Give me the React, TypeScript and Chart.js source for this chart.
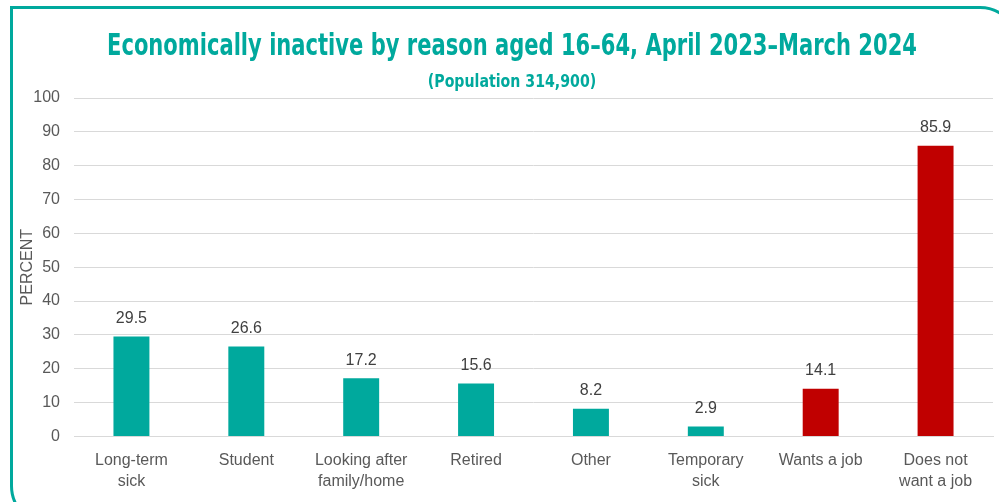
import React, { useEffect, useRef } from "react";
import { Chart, registerables } from "chart.js";

Chart.register(...registerables);

const categories: (string | string[])[] = [
  ["Long-term", "sick"],
  "Student",
  ["Looking after", "family/home"],
  "Retired",
  "Other",
  ["Temporary", "sick"],
  "Wants a job",
  ["Does not", "want a job"],
];
const values = [29.5, 26.6, 17.2, 15.6, 8.2, 2.9, 14.1, 85.9];
const barColors = ["#00a99d", "#00a99d", "#00a99d", "#00a99d", "#00a99d", "#00a99d", "#c00000", "#c00000"];
const yTicks = [0, 10, 20, 30, 40, 50, 60, 70, 80, 90, 100];
const titleText = "Economically inactive by reason aged 16–64, April 2023–March 2024";
const subtitleText = "(Population 314,900)";
const yTitle = "PERCENT";

const TEAL = "#00a99d";
const TITLE_FONT = "'DejaVu Sans Condensed', 'DejaVu Sans', sans-serif";
const BODY_FONT = "'Liberation Sans', Arial, sans-serif";

const valueLabels = {
  id: "valueLabels",
  afterDatasetsDraw(chart: any) {
    const ctx = chart.ctx;
    const meta = chart.getDatasetMeta(0);
    ctx.save();
    ctx.font = `16px ${BODY_FONT}`;
    ctx.fillStyle = "#404040";
    ctx.textAlign = "center";
    ctx.textBaseline = "bottom";
    meta.data.forEach((bar: any, i: number) => {
      ctx.fillText(values[i].toFixed(1), bar.x, bar.y - 10);
    });
    ctx.restore();
  },
};

const condensedTitles = {
  id: "condensedTitles",
  afterDraw(chart: any) {
    const ctx = chart.ctx;
    const draw = (text: string, size: number, baseline: number, sx: number, cx: number) => {
      ctx.save();
      ctx.font = `bold ${size}px ${TITLE_FONT}`;
      ctx.fillStyle = TEAL;
      ctx.textAlign = "center";
      ctx.textBaseline = "alphabetic";
      ctx.translate(cx, baseline);
      ctx.scale(sx, 1);
      ctx.fillText(text, 0, 0);
      ctx.restore();
    };
    draw(titleText, 31, 55, 0.755, 512);
    draw(subtitleText, 18.5, 87, 0.85, 512);
  },
};

export default function App() {
  const ref = useRef<HTMLCanvasElement>(null);
  useEffect(() => {
    if (!ref.current) return;
    const chart = new Chart(ref.current, {
      type: "bar",
      data: {
        labels: categories,
        datasets: [
          {
            data: values,
            backgroundColor: barColors,
            barPercentage: 0.313,
            categoryPercentage: 1,
          },
        ],
      },
      options: {
        animation: false,
        responsive: false,
        maintainAspectRatio: false,
        layout: { padding: { left: 0, right: 6, top: 98, bottom: 4 } },
        plugins: {
          legend: { display: false },
          tooltip: { enabled: false },
          title: { display: false },
        },
        scales: {
          x: {
            grid: { display: false },
            border: { display: true, color: "#d9d9d9", width: 1 },
            ticks: {
              color: "#595959",
              font: { family: BODY_FONT, size: 16, lineHeight: 1.3 },
              maxRotation: 0,
              autoSkip: false,
              padding: 6,
            },
          },
          y: {
            min: 0,
            max: 100,
            afterBuildTicks: (s: any) => {
              s.ticks = yTicks.map((v) => ({ value: v }));
            },
            afterFit: (s: any) => {
              s.width = 74;
            },
            grid: { color: "#d9d9d9", lineWidth: 1, drawTicks: false },
            border: { display: false },
            ticks: {
              color: "#595959",
              font: { family: BODY_FONT, size: 16 },
              padding: 14,
            },
            title: {
              display: true,
              text: yTitle,
              color: "#595959",
              font: { family: BODY_FONT, size: 16 },
              padding: { top: 18, bottom: 0 },
            },
          },
        },
      },
      plugins: [valueLabels, condensedTitles],
    });
    return () => chart.destroy();
  }, []);
  return (
    <div style={{ position: "fixed", left: 0, top: 0, width: 999, height: 502, background: "#fff", overflow: "hidden" }}>
      <div
        style={{
          position: "absolute",
          left: 10,
          top: 6,
          width: 1010,
          height: 520,
          border: `3px solid ${TEAL}`,
          borderRadius: "0 40px 0 40px",
          boxSizing: "border-box",
        }}
      />
      <canvas ref={ref} width={999} height={502} style={{ position: "absolute", left: 0, top: 0 }} />
    </div>
  );
}
